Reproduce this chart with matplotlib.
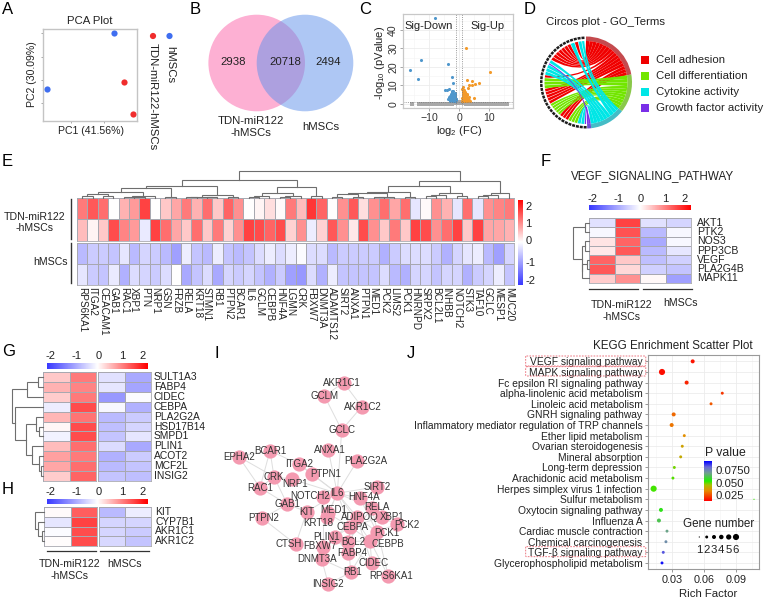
import numpy as np
import matplotlib
matplotlib.use("Agg")
import matplotlib.pyplot as plt
from matplotlib.colors import LinearSegmentedColormap
from matplotlib.patches import Circle, FancyBboxPatch, PathPatch, Rectangle, Wedge
from matplotlib.path import Path

plt.rcParams['font.family'] = ['Liberation Sans', 'DejaVu Sans']
plt.rcParams['mathtext.default'] = 'regular'

INK = '#222222'

# A: PCA
pca_blue_x = [6, -34.5]
pca_blue_y = [20, -3.9]
pca_red_x = [12, 17.6]
pca_red_y = [-0.9, -14.6]

# B: Venn counts
venn_counts = ['2938', '20718', '2494']

# C: volcano
down_x = [-7.9, -12.7, -16.2, -13.8, -3.6, -2.4, -1.9, -4.7, -4.1, -3.4, -3.1, -2.9, -2.7, -2.6, -2.4,
          -2.3, -2.2, -2.1, -2.0, -1.9, -1.8, -1.7, -1.6, -1.5, -1.4, -1.3, -1.2, -1.1, -3.0, -2.5, -2.0,
          -1.6, -1.3, -2.8, -2.2, -1.8, -1.5, -1.2, -2.4, -1.9, -1.4, -1.7, -1.1, -1.3, -2.1,
          -3.3, -2.9, -2.6, -2.3, -2.0, -1.7, -1.4, -1.2, -3.1, -2.7, -2.4, -1.9, -1.6, -1.3, -1.1, -3.6, -2.2, -1.5]
down_y = [46.3, 24, 18.4, 13.5, 21.6, 14.6, 11.4, 7.7, 7.7, 7.9, 4.5, 3.2, 5.6, 2.4, 6.8,
          3.8, 2.1, 5.1, 3.0, 7.2, 2.2, 4.4, 1.8, 3.5, 2.6, 6.1, 1.7, 2.9, 2.0, 4.1, 1.6,
          5.3, 4.0, 2.6, 2.9, 1.5, 2.1, 3.3, 1.9, 2.5, 1.6, 3.1, 1.9, 2.3, 1.5,
          3.6, 2.2, 4.2, 5.8, 4.7, 2.0, 3.4, 4.7, 1.7, 1.9, 3.0, 3.9, 2.7, 1.5, 2.4, 2.8, 6.4, 4.9]
up_x = [2.3, 10.4, 6.8, 4.2, 2.6, 5.3, 3.4, 4.2, 5.1, 3.1, 1.4, 1.1, 1.2, 1.3, 1.5, 1.6, 1.7, 1.8, 1.9, 2.0,
        2.1, 2.2, 2.4, 2.6, 2.8, 3.0, 3.3, 1.2, 1.4, 1.6, 1.8, 2.0, 2.3, 2.7, 1.1, 1.3, 1.5, 1.7, 1.9, 2.5,
        1.2, 1.4, 1.5, 1.6, 1.8, 2.0, 2.2, 2.4, 2.9, 3.2, 1.1, 1.3, 1.7, 1.9, 2.1, 2.6, 3.5, 1.5, 1.3, 1.8]
up_y = [30, 17.5, 11.5, 12.2, 13.2, 11, 10, 10, 3, 8.6, 9.2, 8.1, 6.5, 4.8, 7.4, 3.2, 5.5, 2.4, 6.3, 4.0,
        2.2, 5.1, 3.3, 2.5, 4.6, 3.0, 2.1, 3.4, 1.9, 6.0, 1.7, 2.8, 1.6, 1.8, 1.8, 2.6, 4.3, 1.5, 3.6, 1.6,
        5.7, 3.8, 2.7, 4.5, 3.2, 5.0, 3.7, 2.0, 1.9, 3.9, 3.0, 7.2, 2.1, 2.4, 4.2, 5.4, 1.6, 5.2, 2.2, 4.9]
ns_x = [-15.8, -13.2, -12.8, -12.3, -11.9, -11.4, -10.9, -10.6, -10.1, -9.6, -9.1, -8.7, -8.2, -7.8, -7.3,
        -6.8, -6.4, -5.9, -5.5, -5.0, -4.6, -4.1, -3.7, -3.2, -2.8, -2.3, -1.9, -1.4, -1.0, -0.6, -0.2, 0.2,
        0.6, 0.9, 1.3, 1.8, 2.2, 2.7, 3.1, 3.6, 4.0, 4.5, 4.9, 5.4, 5.8, 6.3, 6.7, 7.2, 7.6, 8.1, 8.5, 9.0,
        9.4, 9.9, 10.3, 10.8, 11.2, 11.7, 12.1, 12.6, 13.0, 13.5, 14.0, 14.6, 15.4, 15.9]
ns_y = [0.1, 0.1, 0.05, 0.1, 0.05, 0.1, 0.1, 0.05, 0.1, 0.05, 0.1, 0.1, 0.05, 0.1, 0.1,
        0.1, 0.05, 0.1, 0.1, 0.1, 0.2, 0.1, 0.2, 0.1, 0.3, 0.2, 0.4, 0.3, 0.6, 0.9, 0.7, 1.0,
        0.8, 0.5, 0.3, 0.4, 0.2, 0.3, 0.2, 0.1, 0.2, 0.1, 0.1, 0.05, 0.1, 0.1, 0.05, 0.1, 0.1, 0.05, 0.1, 0.1,
        0.05, 0.1, 0.1, 0.05, 0.1, 0.1, 0.05, 0.1, 0.1, 0.05, 0.1, 0.1, 0.1, 0.05]

# D: circos, sector of each chord from the top of the ring going left, width in degrees
circos_terms = ['Cell adhesion', 'Cell differentiation', 'Cytokine activity', 'Growth factor activity']
circos_chord_term = [2, 2, 0, 2, 0, 0, 0, 0, 0, 0, 0, 2, 3, 2, 2, 2, 0, 1, 1, 1, 0, 0, 0, 0, 0,
                     1, 1, 1, 1, 1, 0, 0, 0, 1, 1, 1, 2, 2, 3]
circos_chord_width = [4, 5, 5, 6, 5, 5, 5, 5, 5, 5, 5, 5, 2.5, 5, 5, 5, 4, 5, 5, 5, 4.5, 4.5, 4.5, 4.5, 4.5,
                      4, 4, 4, 4, 4, 4.5, 4.5, 4.5, 4.5, 4.5, 4.5, 5, 5, 2.5]

# E: heatmap
genes_e = ['RPS6KA1', 'ITGA2', 'CEACAM1', 'GAB1', 'RAC1', 'XBP1', 'PTN', 'NRP1', 'GSN', 'FRZB', 'RELA', 'KRT18',
           'STMN1', 'RB1', 'PTPN2', 'BCAR1', 'IL6', 'GCLM', 'CEBPB', 'HNF4A', 'LGMN', 'CRK', 'FBXW7', 'DNMT3A',
           'ADAMTS12', 'SIRT2', 'ANXA1', 'PTPN1', 'MED1', 'PCK2', 'LIMS2', 'PCK1', 'HNRNPD', 'SRPX2', 'BCL2L1',
           'INHBB', 'NOTCH2', 'STK3', 'TAF10', 'GCLC', 'MESP1', 'MUC20']
e_tdn1 = [1.2, 1.5, 1.3, 0, .7, .9, 1.7, 0, .5, .8, 1.2, .7, 1.3, .5, 1.4, 1.0, 0, .1, .3, .05, 1.2, .6, 1.8, 1.4,
          0, 1.0, 1.5, .3, 1.0, 1.3, .8, 1.3, -.3, .05, 1.0, .7, -.3, 1.3, -.3, 1.0, 1.1, 1.2]
e_tdn2 = [.6, .1, .5, 1.6, 1.1, .9, -.25, 1.7, 1.3, .8, .5, 1.3, .5, 1.2, .4, 1.0, 1.7, 1.6, 1.4, 1.6, .4, 1.0, -.2,
          .4, 1.5, 1.0, .2, 1.6, 1.0, .5, 1.2, .5, 1.7, 1.6, 1.0, 1.3, 1.7, .5, 1.7, .8, .8, .7]
e_hm1 = [-.8, -.6, -.6, -.7, -.3, -.8, -.5, -.6, -.8, -1.1, -.2, -.7, -.8, -.2, -.7, -.8, -.7, -.4, -.2, -.4, -.2,
         -.05, -.4, -.4, -.8, -.6, -.6, -.6, -.6, -.9, -.6, -.4, -.4, -.4, -.6, -.9, -.5, -.3, -.2, -.8, -1.1, -.5]
e_hm2 = [-.3, -.6, -.7, -.25, -.9, -.4, -.5, -.6, -.4, 0, -1.0, -.7, -.4, -1.0, -.5, -.6, -.5, -.7, -.9, -.6, -1.1,
         -1.2, -.4, -.9, -.2, -.7, -.7, -.7, -.7, -.4, -.8, -.9, -.5, -.5, -.7, -.5, -.5, -.9, -.6, -.5, -.2, -.7]
# merge tree of the columns: [height, left, right]
tree_e_a = [12, [10, [6.5, [4.5, [2.5, 0, 1], [2.5, 2, 3]], [2.5, [1.5, 4, [1, 5, 6]], 7]], [1, 8, 9]],
            [3.5, [1.5, [1, 10, 11], [1, 12, 13]], [1, 14, 15]]]
tree_e_b = [11, [5, [2.5, [1.5, 16, 17], 18], [2.5, [1.5, 19, 20], 21]], [2.3, 22, 23]]
tree_e_c = [17, [12, [6.3, [5.5, [4, [1.5, 24, 25], [1.5, 26, 27]], [1.5, [1, 28, 29], 30]], [1.3, 31, 32]],
                 [4.7, [3, [2, 33, 34], 35], [2, 36, 37]]], [4.7, [3, [2, 38, 39], 40], 41]]
tree_e = [27, [18, tree_e_a, tree_e_b], tree_e_c]

# F
genes_f = ['AKT1', 'PTK2', 'NOS3', 'PPP3CB', 'VEGF', 'PLA2G4B', 'MAPK11']
vals_f = [[-.35, 1.7, -.35, -.5], [-.1, 1.55, -.8, -.1], [.25, 1.4, -1.0, -.1], [.2, 1.5, -.8, -.3],
          [1.4, .5, -.75, -.55], [1.5, .35, -.55, -.7], [.45, 1.0, .06, -1.1]]
tree_f = [16, [4.5, 0, 1], [7.5, [4.5, 2, 3], [7, [2, 4, 5], 6]]]

# G
genes_g = ['SULT1A3', 'FABP4', 'CIDEC', 'CEBPA', 'PLA2G2A', 'HSD17B14', 'SMPD1', 'PLIN1', 'ACOT2', 'MCF2L', 'INSIG2']
vals_g = [[.5, 1.2, -.35, -1.0], [.7, 1.1, -.3, -1.05], [.45, 1.2, -1.2, -.05], [-.2, 1.6, -.1, -.9],
          [.65, 1.25, -.8, -.6], [.08, 1.6, -.75, -.5], [-.15, 1.6, -.7, -.3], [.6, 1.3, -.4, -1.0],
          [.85, 1.2, -.9, -.6], [.8, 1.3, -.8, -.7], [.45, 1.4, -.7, -.75]]
tree_g = [31, [16, [5, 0, 1], 2], [28, 3, [17, [7, 4, [4, 5, 6]], [11, 7, [4, 8, [2, 9, 10]]]]]]

# H
genes_h = ['KIT', 'CYP7B1', 'AKR1C1', 'AKR1C2']
vals_h = [[.05, 1.45, -.8, -.2], [-.3, 1.7, -.5, -.5], [-.05, 1.6, -.5, -.6], [.03, 1.6, -.45, -.7]]
tree_h = [9, 0, [6, 1, [2, 2, 3]]]

# I: network, layout
net_names = ['AKR1C1', 'GCLM', 'AKR1C2', 'GCLC', 'ANXA1', 'PLA2G2A', 'BCAR1', 'EPHA2', 'ITGA2', 'PTPN1', 'CRK', 'NRP1',
             'RAC1', 'SIRT2', 'IL6', 'NOTCH2', 'HNF4A', 'GAB1', 'RELA', 'MED1', 'KIT', 'XBP1', 'PTPN2', 'ADIPOQ',
             'PCK2', 'KRT18', 'CEBPA', 'PCK1', 'PLIN1', 'BCL2', 'CEBPB', 'CTSH', 'FBXW7', 'FABP4', 'DNMT3A',
             'CIDEC', 'RB1', 'RPS6KA1', 'INSIG2']
net_x = [343.7, 324.3, 361.7, 341.7, 328.3, 357.3, 270, 238.7, 299, 312.3, 274, 292.3, 260, 377, 337.3, 323.3,
         360, 287.3, 371.7, 328.3, 306.7, 381.7, 262.3, 356.7, 396.7, 326.7, 350, 376.7, 335, 348.3, 370, 295.7,
         323.3, 348.3, 321.7, 371.7, 350.7, 388.3, 328.3]
net_y = [382.7, 395.7, 406.7, 430, 450, 460.7, 450.7, 456.7, 464.3, 474.3, 476.7, 479.3, 487.7, 486.7, 493.3,
         496.7, 498.3, 504.3, 507.7, 513.3, 511.7, 517.3, 518.3, 516.7, 524.3, 516.7, 526.7, 531.7, 537.3, 541.7,
         540.7, 544.3, 546.7, 552.7, 559.3, 563.3, 572.3, 576, 584]
net_label_x = [341.7, 324.3, 363, 341.7, 330, 366, 270, 238.7, 299, 326, 274, 295, 260, 377, 337.3, 310, 364, 287.3,
               376.7, 334, 306.7, 392, 263.3, 360, 407.3, 318.3, 352.7, 387.3, 326.7, 353.3, 388.3, 288.3, 320,
               352.7, 317.3, 374, 352.7, 390.7, 327.7]
net_label_y = [382.7, 395.7, 406.7, 430, 450, 460.7, 450.7, 456.7, 464.3, 474.3, 476.7, 484.3, 487.7, 486.7, 493.3,
               495.7, 497.3, 504.3, 506.7, 510, 511.7, 517.3, 518.3, 517.3, 525, 522.7, 526.7, 533.3, 536.7, 541.7,
               544, 544.3, 546, 552.7, 559.3, 563.3, 572.3, 576, 584]
net_edges = [('AKR1C1', 'GCLM'), ('AKR1C1', 'AKR1C2'), ('GCLM', 'GCLC'), ('AKR1C2', 'GCLC'), ('ANXA1', 'IL6'),
             ('PLA2G2A', 'IL6'), ('BCAR1', 'CRK'), ('BCAR1', 'EPHA2'), ('EPHA2', 'RAC1'), ('EPHA2', 'CRK'),
             ('BCAR1', 'ITGA2'), ('BCAR1', 'RAC1'), ('ITGA2', 'IL6'), ('PTPN1', 'IL6'), ('ITGA2', 'PTPN1'),
             ('CRK', 'RAC1'), ('CRK', 'GAB1'), ('NRP1', 'IL6'), ('NRP1', 'CRK'), ('RAC1', 'GAB1'), ('GAB1', 'KIT'),
             ('KIT', 'IL6'), ('NOTCH2', 'IL6'), ('IL6', 'HNF4A'), ('IL6', 'SIRT2'), ('IL6', 'RELA'), ('IL6', 'MED1'),
             ('IL6', 'CEBPA'), ('IL6', 'ADIPOQ'), ('IL6', 'KRT18'), ('IL6', 'CEBPB'), ('HNF4A', 'RELA'),
             ('HNF4A', 'PCK1'), ('SIRT2', 'RELA'), ('XBP1', 'CEBPA'), ('PCK2', 'PCK1'), ('PCK1', 'ADIPOQ'),
             ('CEBPA', 'ADIPOQ'), ('CEBPA', 'CEBPB'), ('CEBPA', 'MED1'), ('BCL2', 'RELA'), ('BCL2', 'CEBPB'),
             ('PLIN1', 'ADIPOQ'), ('PLIN1', 'FABP4'), ('PLIN1', 'CEBPA'), ('FABP4', 'CEBPA'), ('FABP4', 'ADIPOQ'),
             ('CIDEC', 'CEBPB'), ('CIDEC', 'ADIPOQ'), ('CIDEC', 'PLIN1'), ('RB1', 'BCL2'), ('RB1', 'CEBPB'),
             ('RPS6KA1', 'CEBPB'), ('RB1', 'DNMT3A'), ('DNMT3A', 'FBXW7'), ('DNMT3A', 'INSIG2'), ('INSIG2', 'RB1'),
             ('PTPN2', 'CTSH'), ('CTSH', 'KIT'), ('FBXW7', 'NOTCH2'), ('RPS6KA1', 'RELA'), ('PTPN2', 'GAB1'),
             ('GCLC', 'IL6'), ('XBP1', 'RELA'), ('PCK2', 'XBP1')]

# J: KEGG
pathways = ['VEGF signaling pathway', 'MAPK signaling pathway', 'Fc epsilon RI signaling pathway',
            'alpha-linolenic acid metabolism', 'Linoleic acid metabolism', 'GNRH signaling pathway',
            'Inflammatory mediator regulation of TRP channels', 'Ether lipid metabolism', 'Ovarian steroidogenesis',
            'Mineral absorption', 'Long-term depression', 'Arachidonic acid metabolism',
            'Herpes simplex virus 1 infection', 'Sulfur metabolism', 'Oxytocin signaling pathway', 'Influenza A',
            'Cardiac muscle contraction', 'Chemical carcinogenesis', 'TGF-β signaling pathway',
            'Glycerophospholipid metabolism']
rich_factor = [.0495, .0206, .0438, .0774, .0668, .0316, .0297, .0416, .0397, .0382, .0322, .0309, .0127, .1073,
               .0196, .0177, .0253, .0243, .0218, .0206]
p_value = [.018, .017, .020, .023, .028, .030, .032, .036, .040, .042, .050, .052, .053, .054, .058, .064, .070,
           .075, .085, .093]
gene_number = [3, 6, 3, 2, 2, 3, 3, 2, 2, 2, 2, 2, 6, 1, 3, 3, 2, 2, 2, 2]
gene_legend = [1, 2, 3, 4, 5, 6]

fig = plt.figure(figsize=(7.64, 6), dpi=100)
W, H = 764, 600


def box(x0, y0, x1, y1, **kw):
    return fig.add_axes([x0 / W, 1 - y1 / H, (x1 - x0) / W, (y1 - y0) / H], **kw)


pix = box(0, 0, W, H, zorder=10)
pix.set_xlim(0, W)
pix.set_ylim(H, 0)
pix.axis('off')
pix.patch.set_alpha(0)


def label(x, y, s, size=8.2, ha='center', va='center', **kw):
    kw.setdefault('color', INK)
    return pix.text(x, y, s, fontsize=size, ha=ha, va=va, **kw)


for letter, lx, ly in [('A', 2, 9), ('B', 190, 9), ('C', 359, 9), ('D', 524, 9), ('E', 2, 161), ('F', 541, 161),
                       ('G', 2, 351), ('H', 2, 490), ('I', 214, 353), ('J', 407, 353)]:
    label(lx, ly, letter, size=12, ha='left', color='black')

heat_cmap = LinearSegmentedColormap.from_list('heat', ['#3a3aff', '#ffffff', '#ff0000'])
GRID = '#a8a8b0'


def heat(x0, y0, x1, y1, vals):
    ax = box(x0, y0, x1, y1)
    ax.pcolormesh(np.array(vals), cmap=heat_cmap, vmin=-2.3, vmax=2.3, edgecolors=GRID, linewidth=0.4)
    ax.set_ylim(len(vals), 0)
    ax.set_xticks([])
    ax.set_yticks([])
    for s in ax.spines.values():
        s.set_color(GRID)
        s.set_linewidth(0.6)
    return ax


def dendro(node, leaf_pos, base, vertical=True, sign=-1):
    # draws a merge tree, returns the position of its stem
    if isinstance(node, int):
        return leaf_pos(node), 0
    h, a, b = node
    pa, ha = dendro(a, leaf_pos, base, vertical, sign)
    pb, hb = dendro(b, leaf_pos, base, vertical, sign)
    across = [pa, pa, pb, pb]
    up = [base + sign * ha, base + sign * h, base + sign * h, base + sign * hb]
    if vertical:
        pix.plot(across, up, color='#6e6e6e', lw=0.8, solid_joinstyle='miter')
    else:
        pix.plot(up, across, color='#6e6e6e', lw=0.8, solid_joinstyle='miter')
    return (pa + pb) / 2, h


def hbar(x0, x1, y0, y1, ticks, tick_y):
    ax = box(x0, y0, x1, y1)
    ax.imshow(np.linspace(-1, 1, 200)[None, :], aspect='auto', cmap=heat_cmap, vmin=-1, vmax=1)
    ax.axis('off')
    for s, tx in ticks:
        label(tx, tick_y, s, size=8)


# A
ax = box(43, 29, 137, 121)
ax.scatter(pca_blue_x, pca_blue_y, s=20, color='#3f6ef0', lw=0)
ax.scatter(pca_red_x, pca_red_y, s=20, color='#f02d2d', lw=0)
ax.set_xlim(-37, 20)
ax.set_ylim(-17.7, 21.9)
ax.set_xticks([-20, 0])
ax.set_yticks([-10, 0, 10, 20])
ax.tick_params(length=1.5, color='#999999', labelbottom=False, labelleft=False, width=0.6)
for s in ax.spines.values():
    s.set_color('#c4c4c4')
    s.set_linewidth(1)
label(90, 21, 'PCA Plot')
label(91, 131, 'PC1 (41.56%)', size=7.6)
label(32, 74, 'PC2 (30.09%)', size=7.6, rotation=90)
pix.scatter([153, 169.5], [36, 36], s=20, color=['#f02d2d', '#3f6ef0'], lw=0)
label(153, 43, 'TDN-miR122-hMSCs', rotation=270, va='top')
label(170, 46, 'hMSCs', rotation=270, va='top')

# B
pix.add_patch(Circle((256.7, 63), 48.3, color='#fdb0d3', lw=0))
pix.add_patch(Circle((305, 63), 48.3, color='#5f91eb', alpha=0.5, lw=0))
for tx, s in zip([233, 285, 328], venn_counts):
    label(tx, 62, s)
label(251, 127, 'TDN-miR122\n-hMSCs', linespacing=1.15)
label(321, 127, 'hMSCs')

# C
ax = box(403, 14, 513, 108)
ax.set_xlim(-18.7, 18)
ax.set_ylim(-2.2, 48.6)
ax.set_xticks([-10, 0, 10])
ax.set_yticks([0, 10, 20, 30, 40])
ax.set_xticks([-15, -5, 5, 15], minor=True)
ax.set_yticks([5, 15, 25, 35, 45], minor=True)
ax.grid(True, which='major', color='#ececec', lw=0.6)
ax.grid(True, which='minor', color='#f4f4f4', lw=0.4)
ax.set_axisbelow(True)
ax.scatter(ns_x, ns_y, s=5, color='#a8a8a8', lw=0, marker='s')
ax.scatter(down_x, down_y, s=5, color='#4f97cc', lw=0)
ax.scatter(up_x, up_y, s=5, color='#f39a2a', lw=0)
ax.axvline(-1, color='#777777', lw=0.6, ls=':')
ax.axvline(1, color='#777777', lw=0.6, ls=':')
ax.axhline(1.3, color='#777777', lw=0.6, ls=':')
ax.tick_params(which='minor', length=0)
ax.tick_params(length=2, color='#999999', width=0.6, labelsize=7.6, labelcolor='#333333', pad=1.5)
plt.setp(ax.get_yticklabels(), rotation=90, va='center')
for s in ax.spines.values():
    s.set_color('#c8c8c8')
    s.set_linewidth(0.9)
label(429, 26, 'Sig-Down', size=8)
label(488, 26, 'Sig-Up', size=8)
label(459, 131, r'log$_2$ (FC)', size=8)
label(380, 63, r'-log$_{10}$ (pValue)', size=8, rotation=90)

# D
circos_colors = ['#f00000', '#72e600', '#00e6e6', '#7a2fe8']
band_colors = ['#c44a4e', '#8ac84a', '#45bcc6', '#6e4fd0']
cx, cy = 586, 82.5
R_OUT, R_IN = 46, 41.5


def pol(a, r):
    return cx + r * np.cos(np.radians(a)), cy - r * np.sin(np.radians(a))


right_top = {}
start = 90.0
for t in range(4):
    span = sum(w for w, c in zip(circos_chord_width, circos_chord_term) if c == t)
    right_top[t] = start
    # darker outer band; y is flipped on the pixel axes, so the wedge angles are negated
    pix.add_patch(Wedge((cx, cy), R_OUT, -start, -(start - span), width=R_OUT - R_IN, color=band_colors[t], lw=0))
    start -= span

left = 92.0
chords = []
cursor = dict(right_top)
for c, w in zip(circos_chord_term, circos_chord_width):
    chords.append((c, left, left + w, cursor[c], cursor[c] - w))
    cursor[c] -= w
    left += w
left_end = left


def arc(a0, a1, r):
    return [pol(a, r) for a in np.linspace(a0, a1, 8)]


def bend(p, q, k=0.12):
    # control point pulled a little from the centre towards the middle of the two ends
    return cx + k * ((p[0] + q[0]) / 2 - cx), cy + k * ((p[1] + q[1]) / 2 - cy)


for term in range(4):
    for c, l0, l1, r0, r1 in chords:
        if c != term:
            continue
        pts = arc(l0 + 0.4, l1 - 0.4, R_IN)
        b = arc(r1, r0, R_IN)
        verts = pts + [bend(pts[-1], b[0]), b[0]] + b[1:] + [bend(b[-1], pts[0]), pts[0]]
        codes = ([Path.MOVETO] + [Path.LINETO] * (len(pts) - 1) + [Path.CURVE3, Path.CURVE3]
                 + [Path.LINETO] * (len(b) - 1) + [Path.CURVE3, Path.CURVE3])
        pix.add_patch(PathPatch(Path(verts, codes), facecolor=circos_colors[c], edgecolor='none', lw=0))

# dashed gene ring on the left half
for l0 in np.arange(92, left_end, 5.0):
    pix.add_patch(Wedge((cx, cy), R_OUT, -(l0 + 3.8), -l0, width=2.5, color='#1c1c1c', lw=0))
label(606, 22, 'Circos plot - GO_Terms')
for t, (name, ly) in enumerate(zip(circos_terms, [60, 76, 92, 108])):
    pix.add_patch(Rectangle((641, ly - 4), 8, 8, color=circos_colors[t], lw=0))
    label(656, ly, name, ha='left')

# E
x0_e, x1_e = 77, 514
heat(x0_e, 198, x1_e, 241, [e_tdn1, e_tdn2])
ax = heat(x0_e, 243, x1_e, 285, [e_hm1, e_hm2])
ax.set_xticks(np.arange(len(genes_e)) + 0.5, genes_e, rotation=270, fontsize=7.2, color=INK, ha='center', va='top')
ax.tick_params(length=0, pad=1.5)
step_e = (x1_e - x0_e) / len(genes_e)
dendro(tree_e, lambda i: x0_e + step_e * (i + 0.5), 198)
pix.plot([71, 71], [199, 239], color='#333333', lw=1)
pix.plot([71, 71], [243, 283], color='#333333', lw=1)
label(35, 222.5, 'TDN-miR122\n-hMSCs', size=7.6, linespacing=1.2)
label(50, 262, 'hMSCs', size=7.6)
ax = box(518, 200, 523, 285)
ax.imshow(np.linspace(1, -1, 200)[:, None], aspect='auto', cmap=heat_cmap, vmin=-1, vmax=1)
ax.axis('off')
for s, ty in zip(['2', '1', '0', '-1', '-2'], [207, 224, 241, 263, 281]):
    label(525.5, ty, s, size=8, ha='left')

# F
x0_f, x1_f = 589, 691
y0_f, y1_f = 218, 283
heat(x0_f, y0_f, (x0_f + x1_f) / 2, y1_f, [r[:2] for r in vals_f])
heat((x0_f + x1_f) / 2, y0_f, x1_f, y1_f, [r[2:] for r in vals_f])
step_f = (y1_f - y0_f) / len(genes_f)
for i, g in enumerate(genes_f):
    label(697, y0_f + step_f * (i + 0.5), g, size=7.6, ha='left')
dendro(tree_f, lambda i: y0_f + step_f * (i + 0.5), x0_f, vertical=False)
label(653, 176, 'VEGF_SIGNALING_PATHWAY', size=8.4)
hbar(x0_f, x1_f, 205, 210, [('-2', 593), ('-1', 619), ('0', 641), ('1', 665), ('2', 685)], 199)
pix.plot([589, 638], [289, 289], color='#333333', lw=0.9)
pix.plot([643, 692], [289, 289], color='#333333', lw=0.9)
label(622, 311, 'TDN-miR122\n-hMSCs', size=7.6, linespacing=1.2)
label(681, 303, 'hMSCs', size=7.6)

# G
y0_g, y1_g = 372, 481
heat(43, y0_g, 96, y1_g, [r[:2] for r in vals_g])
heat(98.5, y0_g, 151, y1_g, [r[2:] for r in vals_g])
step_g = (y1_g - y0_g) / len(genes_g)
for i, g in enumerate(genes_g):
    label(154, y0_g + step_g * (i + 0.5), g, size=7.4, ha='left')
dendro(tree_g, lambda i: y0_g + step_g * (i + 0.5), 43, vertical=False)
hbar(47, 148, 363, 369, [('-2', 50), ('-1', 77), ('0', 99), ('1', 122), ('2', 143)], 356)

# H
y0_h, y1_h = 507, 546
heat(44, y0_h, 97, y1_h, [r[:2] for r in vals_h])
heat(99, y0_h, 151, y1_h, [r[2:] for r in vals_h])
step_h = (y1_h - y0_h) / len(genes_h)
for i, g in enumerate(genes_h):
    label(155, y0_h + step_h * (i + 0.5), g, size=7.4, ha='left')
dendro(tree_h, lambda i: y0_h + step_h * (i + 0.5), 44, vertical=False)
hbar(47, 148, 499, 504, [('-2', 51), ('-1', 77), ('0', 99), ('1', 122), ('2', 143)], 492)
pix.plot([47, 96], [551, 551], color='#333333', lw=0.9)
pix.plot([100, 149], [551, 551], color='#333333', lw=0.9)
label(70, 570, 'TDN-miR122\n-hMSCs', size=7.6, linespacing=1.2)
label(124, 564, 'hMSCs', size=7.6)

# I
index = {n: i for i, n in enumerate(net_names)}
for a, b in net_edges:
    pix.plot([net_x[index[a]], net_x[index[b]]], [net_y[index[a]], net_y[index[b]]], color='#dedede', lw=0.7, zorder=1)
pix.scatter(net_x, net_y, s=105, color='#f49ab0', lw=0, zorder=2)
for n, lx, ly in zip(net_names, net_label_x, net_label_y):
    label(lx, ly, n, size=7, color='#333333', zorder=3)

# J
p_cmap = LinearSegmentedColormap.from_list('pval', [(0, '#ff0000'), (.25, '#e88a00'), (.4, '#a8c000'),
                                                    (.5, '#20f000'), (.7, '#70a090'), (.85, '#6a6ad8'),
                                                    (1, '#0000ff')])
size_of = {1: 1, 2: 6, 3: 11, 4: 14, 5: 19, 6: 26}
ax = box(648, 355, 759, 569)
rows = np.arange(len(pathways))
ax.scatter(rich_factor, rows, s=[size_of[g] * 0.75 for g in gene_number], c=p_value, cmap=p_cmap, vmin=.015, vmax=.095,
           lw=0, zorder=3)
ax.set_xlim(.0074, .112)
ax.set_ylim(19.57, -0.6)
ax.set_xticks([.03, .06, .09], ['0.03', '0.06', '0.09'])
ax.set_yticks(rows, pathways)
ax.set_xticks([.015, .045, .075, .105], minor=True)
ax.grid(True, color='#ececec', lw=0.6)
ax.grid(True, which='minor', axis='x', color='#f3f3f3', lw=0.4)
ax.set_axisbelow(True)
ax.tick_params(which='minor', length=0)
ax.tick_params(length=2, width=0.6, color='#888888', labelcolor=INK, pad=2)
ax.tick_params(axis='y', labelsize=7.4)
ax.tick_params(axis='x', labelsize=7.8)
for s in ax.spines.values():
    s.set_color('#9a9a9a')
    s.set_linewidth(0.8)
label(673, 346, 'KEGG Enrichment Scatter Plot', size=8.4)
label(708, 594, 'Rich Factor')
for y0, y1 in [(356, 366), (366.7, 376), (546.7, 556.7)]:
    pix.add_patch(FancyBboxPatch((526.5, y0 + 0.8), 118.5, y1 - y0 - 1.6, boxstyle='round,pad=0.8', fc='none',
                                 ec='#e8606c', lw=0.6, ls=(0, (2, 1.5))))
ax = box(704, 461, 712, 501)
ax.imshow(np.linspace(.095, .015, 200)[:, None], aspect='auto', cmap=p_cmap, vmin=.015, vmax=.095)
ax.axis('off')
label(725, 453, 'P value', size=8.8)
for s, ty in [('0.025', 496), ('0.050', 484), ('0.0750', 471.3)]:
    label(715, ty, s, ha='left')
label(719, 524, 'Gene number', size=8.4)
legend_x = [699.3, 706.7, 714, 721.3, 728.7, 736]
pix.scatter(legend_x, [537] * 6, s=[size_of[g] * 0.75 for g in gene_legend], color='black', lw=0)
for lx, g in zip(legend_x, gene_legend):
    label(lx, 550, str(g))

fig.savefig('out.png', dpi=100)
